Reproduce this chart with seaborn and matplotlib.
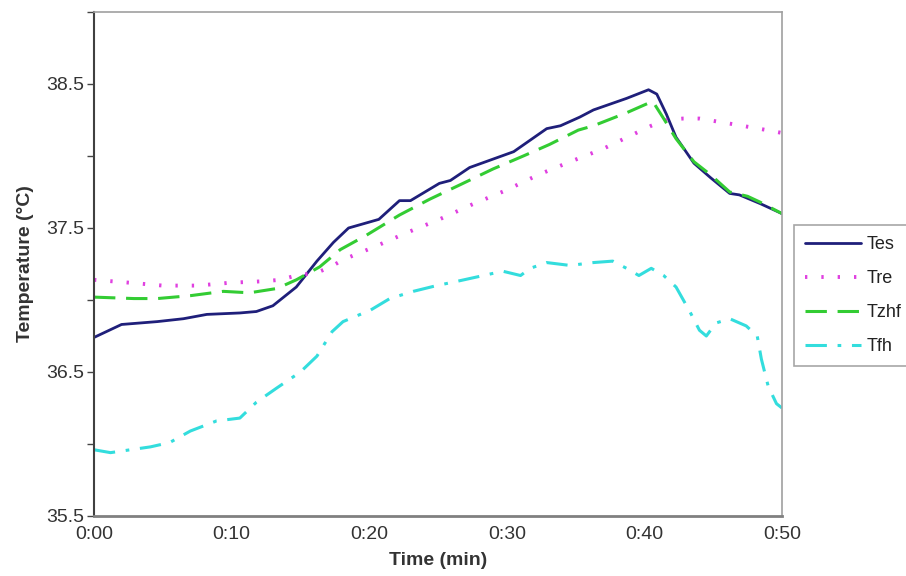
import numpy as np
import pandas as pd
import matplotlib
matplotlib.use('Agg')
import matplotlib.pyplot as plt
import seaborn as sns

# values (time in min, temperature in degC)
tes_t = [0, 2, 4.6, 6.5, 8.2, 10.6, 11.8, 13.0, 14.7, 16.2, 17.4, 18.5, 20.7, 22.2, 23.0,
         25.1, 25.9, 27.3, 30.5, 31.7, 32.9, 33.9, 35.3, 36.3, 38.7, 40.3, 40.9, 41.6,
         42.3, 43.6, 44.8, 46.2, 46.9, 48.4, 50]
tes_v = [36.74, 36.83, 36.85, 36.87, 36.90, 36.91, 36.92, 36.96, 37.09, 37.27, 37.40,
         37.50, 37.56, 37.69, 37.69, 37.81, 37.83, 37.92, 38.03, 38.11, 38.19, 38.21,
         38.27, 38.32, 38.40, 38.46, 38.43, 38.29, 38.13, 37.95, 37.85, 37.74, 37.73,
         37.67, 37.60]

tre_t = [0, 2.6, 5.0, 7.5, 9.9, 12.3, 13.5, 14.7, 16.2, 17.2, 18.1, 20.4, 22.8, 25.1,
         27.4, 29.9, 32.3, 34.6, 37.0, 39.4, 40.5, 41.6, 42.8, 44.0, 46.5, 48.9, 50]
tre_v = [37.14, 37.12, 37.10, 37.10, 37.12, 37.13, 37.14, 37.17, 37.19, 37.23, 37.28,
         37.37, 37.47, 37.56, 37.66, 37.76, 37.87, 37.96, 38.05, 38.16, 38.21, 38.25,
         38.26, 38.26, 38.22, 38.18, 38.16]

tzhf_t = [0, 2.9, 4.6, 7.0, 9.4, 11.3, 13.3, 14.7, 16.4, 17.9, 19.8, 22.2, 24.4, 26.6,
          29.0, 31.2, 33.1, 35.2, 36.3, 38.7, 40.6, 41.4, 42.3, 43.6, 44.8, 46.2, 47.5,
          48.4, 50]
tzhf_v = [37.02, 37.01, 37.01, 37.03, 37.06, 37.05, 37.08, 37.14, 37.23, 37.35, 37.45,
          37.59, 37.70, 37.80, 37.91, 38.00, 38.08, 38.18, 38.21, 38.30, 38.38, 38.26,
          38.12, 37.96, 37.87, 37.75, 37.72, 37.68, 37.60]

tfh_t = [0, 1.2, 4.1, 5.5, 7.0, 8.9, 10.6, 11.8, 13.3, 15.0, 16.2, 17.3, 18.1, 20.1,
         21.5, 23.2, 24.9, 26.4, 28.3, 29.7, 31.0, 31.7, 32.9, 34.6, 36.3, 37.7, 38.7,
         39.6, 40.5, 41.4, 42.3, 43.3, 44.0, 44.5, 45.2, 46.2, 47.4, 48.2, 48.5, 49.0,
         49.6, 50]
tfh_v = [35.96, 35.94, 35.98, 36.01, 36.09, 36.16, 36.18, 36.29, 36.39, 36.50, 36.61,
         36.78, 36.85, 36.93, 37.01, 37.06, 37.10, 37.13, 37.17, 37.20, 37.17, 37.22,
         37.26, 37.24, 37.26, 37.27, 37.22, 37.17, 37.22, 37.17, 37.09, 36.92, 36.79,
         36.75, 36.84, 36.87, 36.82, 36.75, 36.59, 36.40, 36.28, 36.25]

x_ticks = [0, 10, 20, 30, 40, 50]
x_labels = ['0:00', '0:10', '0:20', '0:30', '0:40', '0:50']
y_ticks = [35.5, 36.5, 37.5, 38.5]

sns.set_style('white')
plt.rcParams['font.family'] = ['Liberation Sans', 'DejaVu Sans']

fig = plt.figure(figsize=(9.06, 5.76), dpi=100)
ax = fig.add_axes([94 / 906, 60 / 576, 688 / 906, 504 / 576])

series = [
    ('Tes', tes_t, tes_v, '#1f1f7a', '', 2.0),
    ('Tre', tre_t, tre_v, '#e040e0', (0.6, 3.6), 2.8),
    ('Tzhf', tzhf_t, tzhf_v, '#33cc33', (7, 3.5), 2.2),
    ('Tfh', tfh_t, tfh_v, '#33dddd', (7, 3.5, 1.2, 3.5), 2.2),
]
for name, t, v, col, dsh, lw in series:
    df = pd.DataFrame({'t': t, 'v': v})
    sns.lineplot(data=df, x='t', y='v', ax=ax, color=col, lw=lw, label=name)
    if dsh:
        ax.lines[-1].set_dashes(dsh)

ax.set_xlim(0, 50)
ax.set_ylim(35.5, 39.0)
ax.set_xticks(x_ticks)
ax.set_xticklabels(x_labels)
ax.set_yticks(y_ticks)
ax.set_yticks([36.0, 37.0, 38.0, 39.0], minor=True)
ax.tick_params(axis='both', which='both', direction='out', length=5, width=1,
               color='#444444', labelsize=14, labelcolor='#333333', pad=2)
ax.tick_params(axis='y', which='both', left=True)
ax.set_xlabel('Time (min)', fontsize=14, fontweight='bold', color='#333333', labelpad=7)
ax.set_ylabel('Temperature (°C)', fontsize=14, fontweight='bold', color='#333333', labelpad=9)

for s in ['top', 'right']:
    ax.spines[s].set_color('#a0a0a0')
    ax.spines[s].set_linewidth(1.2)
ax.spines['left'].set_color('#404040')
ax.spines['left'].set_linewidth(1.5)
ax.spines['bottom'].set_color('#808080')
ax.spines['bottom'].set_linewidth(2.0)

leg = ax.legend(loc='upper left', bbox_to_anchor=(794 / 906, 1 - 225 / 576),
                bbox_transform=fig.transFigure, fontsize=13, frameon=True,
                fancybox=False, edgecolor='#909090', handlelength=3.1,
                handletextpad=0.3, labelspacing=0.95, borderpad=0.6,
                borderaxespad=0)
leg.get_frame().set_linewidth(1.2)
for txt in leg.get_texts():
    txt.set_color('#222222')

fig.savefig('out.png', dpi=100)
